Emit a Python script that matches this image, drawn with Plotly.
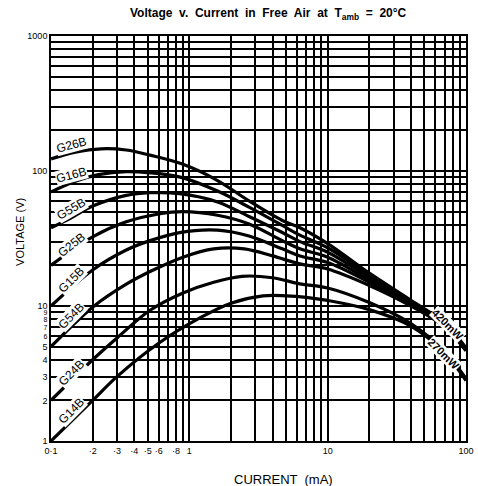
import math
import plotly.graph_objects as go

# ---- data ----
series_names = ["G26B", "G16B", "G55B", "G25B", "G15B", "G54B", "G24B", "G14B"]

current_G26B = [0.1, 0.15, 0.23, 0.35, 0.52, 0.9, 1.6, 2.7, 4.7, 6.3, 10, 20, 40, 70, 100]
voltage_G26B = [123, 138, 146, 143, 131, 112, 85, 60, 43, 38, 29, 17.5, 11, 7.5, 4.9]

current_G16B = [0.1, 0.15, 0.22, 0.35, 0.52, 0.9, 1.6, 2.7, 4.7, 6.3, 10, 20, 40, 70, 100]
voltage_G16B = [70, 84, 94, 99, 97, 89, 71, 54, 39.5, 33.5, 27, 17, 10.8, 7.4, 4.85]

current_G55B = [0.1, 0.14, 0.2, 0.35, 0.52, 0.85, 1.6, 2.7, 4.7, 6.3, 10, 20, 40, 70, 100]
voltage_G55B = [38, 45, 55, 66, 69, 68, 59, 46, 35, 30, 25, 16.3, 10.6, 7.3, 4.8]

current_G25B = [0.1, 0.2, 0.35, 0.6, 0.9, 1.6, 2.7, 4.7, 6.3, 10, 20, 40, 70, 100]
voltage_G25B = [20, 32.5, 42, 48, 50, 47, 40.5, 30.5, 26.5, 23, 15.6, 10.4, 7.2, 4.75]

current_G15B = [0.1, 0.2, 0.35, 0.52, 0.85, 1.6, 2.7, 4.7, 6.3, 10, 20, 40, 70, 100]
voltage_G15B = [10, 18.5, 26, 30.5, 35, 36.5, 33, 26.5, 23.5, 21, 15, 10.2, 7.1, 4.7]

current_G54B = [0.1, 0.2, 0.35, 0.52, 0.9, 1.5, 2.5, 4.0, 6.3, 10, 20, 40, 70, 100]
voltage_G54B = [5, 9.8, 14.5, 18, 23, 26.5, 26.5, 23.5, 20.5, 18.8, 14.2, 10, 7.0, 4.65]

current_G24B = [0.1, 0.2, 0.3, 0.52, 0.9, 1.5, 2.4, 4.0, 6.3, 10, 20, 40, 70, 100]
voltage_G24B = [2, 4, 5.8, 9.3, 12.5, 15, 16.6, 16.2, 14.6, 13.6, 10.6, 7.4, 4.6, 2.9]

current_G14B = [0.1, 0.2, 0.3, 0.6, 1.2, 2.0, 3.4, 5, 7, 10, 20, 40, 70, 100]
voltage_G14B = [1, 2, 3, 5.3, 8.2, 10.5, 11.9, 11.9, 11.6, 11.0, 9.4, 7.1, 4.5, 2.8]

# label positions for curve names
label_current = [0.14, 0.14, 0.14, 0.14, 0.14, 0.14, 0.14, 0.14]
label_voltage = [157, 93, 52, 28.5, 15.6, 8.4, 3.2, 1.67]
label_angle = [-15, -15, -30, -38, -45, -45, -45, -45]

power_labels = ["420mW", "270mW"]
power_label_current = [73, 69]
power_label_voltage = [7.3, 4.4]

# ticks
x_tickvals = [0.1, 0.2, 0.3, 0.4, 0.5, 0.6, 0.7, 0.8, 0.9,
              1, 2, 3, 4, 5, 6, 7, 8, 9,
              10, 20, 30, 40, 50, 60, 70, 80, 90, 100]
x_ticktext = ["0·1", "·2", "·3", "·4", "·5", "·6", "", "·8", "",
              "1", "", "", "", "", "", "", "", "",
              "10", "", "", "", "", "", "", "", "", "100"]
y_tickvals = [1, 2, 3, 4, 5, 6, 7, 8, 9,
              10, 20, 30, 40, 50, 60, 70, 80, 90,
              100, 200, 300, 400, 500, 600, 700, 800, 900, 1000]
y_ticktext = ["1", "2", "3", "4", "5", "6", "7", "8", "9",
              "10", "", "", "", "", "", "", "", "",
              "100", "", "", "", "", "", "", "", "", "1000"]
small_y_labels = {"6", "7", "8", "9"}

currents = [current_G26B, current_G16B, current_G55B, current_G25B,
            current_G15B, current_G54B, current_G24B, current_G14B]
voltages = [voltage_G26B, voltage_G16B, voltage_G55B, voltage_G25B,
            voltage_G15B, voltage_G54B, voltage_G24B, voltage_G14B]

FONT = "Liberation Sans"

fig = go.Figure()
for name, cx, vy in zip(series_names, currents, voltages):
    fig.add_trace(go.Scatter(
        x=cx, y=vy, mode="lines", name=name,
        line=dict(color="black", width=3.2, shape="spline", smoothing=1.0),
        showlegend=False, hoverinfo="skip",
    ))

annotations = []
for name, lx, ly, ang in zip(series_names, label_current, label_voltage, label_angle):
    annotations.append(dict(
        x=math.log10(lx), y=math.log10(ly), xref="x", yref="y",
        text=name, showarrow=False, textangle=ang,
        font=dict(family=FONT, size=12, color="black"),
        bgcolor="white", borderpad=0,
    ))
for name, lx, ly in zip(power_labels, power_label_current, power_label_voltage):
    annotations.append(dict(
        x=math.log10(lx), y=math.log10(ly), xref="x", yref="y",
        text="<b>" + name + "</b>", showarrow=False, textangle=45,
        font=dict(family=FONT, size=11, color="black"),
        bgcolor="white", borderpad=0,
    ))

# axis titles
annotations.append(dict(
    x=-0.075, y=0.516, xref="paper", yref="paper", text="VOLTAGE (V)",
    xanchor="center", yanchor="middle",
    showarrow=False, textangle=-90, font=dict(family=FONT, size=11, color="black"),
))
annotations.append(dict(
    x=0.56, y=-0.094, xref="paper", yref="paper", text="CURRENT  (mA)",
    xanchor="center", yanchor="middle",
    showarrow=False, font=dict(family=FONT, size=13, color="black"),
))
annotations.append(dict(
    x=0.523, y=1.0, xref="paper", yref="paper", yshift=22,
    xanchor="center", yanchor="middle",
    text="<b>Voltage  v.  Current  in  Free  Air  at  T<sub>amb</sub>  =  20°C</b>",
    showarrow=False, font=dict(family=FONT, size=12, color="black"),
))

y_ticktext_fmt = [
    ('<span style="font-size:7px">' + t + "</span>") if t in small_y_labels else t
    for t in y_ticktext
]

fig.update_layout(
    width=478, height=486,
    margin=dict(l=51, r=12, t=36, b=45, autoexpand=False),
    paper_bgcolor="white", plot_bgcolor="white",
    annotations=annotations,
    font=dict(family=FONT, color="black"),
)
fig.update_xaxes(
    type="log", range=[-1, 2], tickvals=x_tickvals, ticktext=x_ticktext,
    tickangle=0, automargin=False,
    showgrid=True, gridcolor="black", gridwidth=1.5,
    showline=True, linecolor="black", linewidth=1.6, mirror=True,
    ticks="", tickfont=dict(size=9, family=FONT), zeroline=False,
)
fig.update_yaxes(
    type="log", range=[0, 3], tickvals=y_tickvals, ticktext=y_ticktext_fmt,
    automargin=False,
    showgrid=True, gridcolor="black", gridwidth=1.5,
    showline=True, linecolor="black", linewidth=1.6, mirror=True,
    ticks="", tickfont=dict(size=9, family=FONT), zeroline=False,
)

# remove the default 8px page margin so the figure fills the window exactly
fig.write_html(
    "out.html",
    config={"displayModeBar": False},
    post_script="document.body.style.margin='0';"
                "document.documentElement.style.overflow='hidden';",
)
